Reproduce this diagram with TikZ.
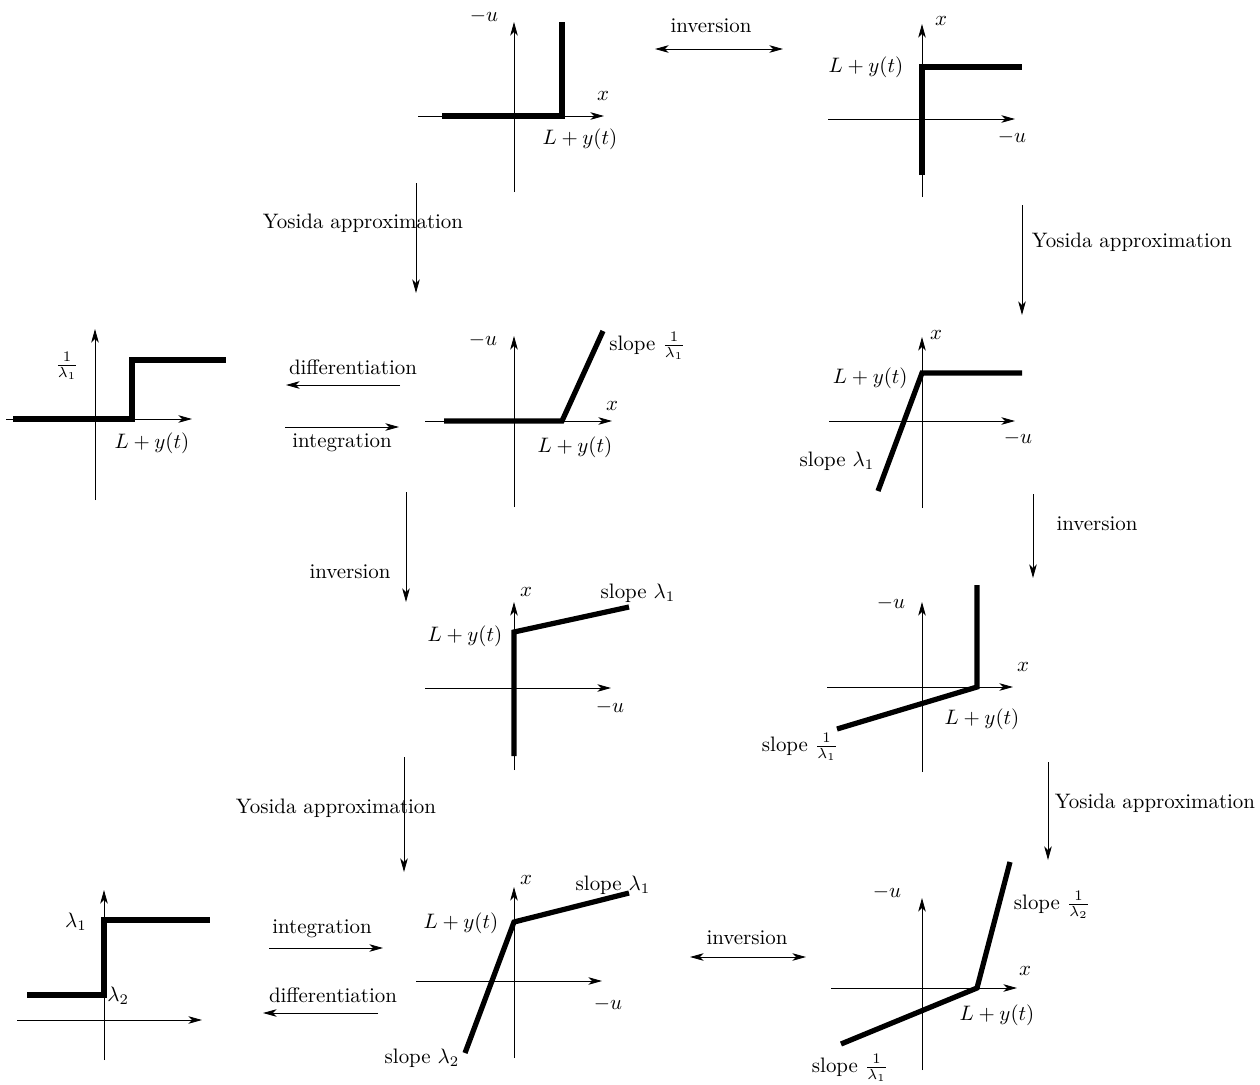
\documentclass[tikz,border=0pt]{standalone}
\usetikzlibrary{arrows.meta}
\begin{document}
\begin{tikzpicture}[x=0.478pt,y=-0.478pt,
  tip/.style={-{Stealth[length=6.5pt,width=3.6pt,inset=1.8pt]}},
  axis/.style={tip,line width=0.4pt},
  trans/.style={tip,line width=0.4pt},
  both/.style={{Stealth[length=6.5pt,width=3.6pt,inset=1.8pt]}-{Stealth[length=6.5pt,width=3.6pt,inset=1.8pt]},line width=0.4pt},
  graph/.style={line width=2.5pt,line join=miter,line cap=butt},
  lbl/.style={inner sep=0pt,font=\normalsize}]
\useasboundingbox (0,0) rectangle (1260,1085);

% ---------- Panel A (top middle)
\draw[axis] (418,116) -- (604,116);
\draw[axis] (514,192) -- (514,22);
\draw[graph] (442,116) -- (562,116) -- (562,22);
\node[lbl] (A-u) at (484,16) {$-u$};
\node[lbl] (A-x) at (603,96) {$x$};
\node[lbl] (A-L) at (580,139) {$L+y(t)$};

% ---------- inversion top
\coordinate (inv1a) at (655,49);
\coordinate (inv1b) at (783,49);
\draw[both] (inv1a) -- (inv1b);
\node[lbl] (inv1) at (711,26) {inversion};

% ---------- Panel B (top right)
\draw[axis] (828,119) -- (1015,119);
\draw[axis] (922,197) -- (922,24);
\draw[graph] (922,175) -- (922,67) -- (1022,67);
\node[lbl] (B-x) at (941,21) {$x$};
\node[lbl] (B-L) at (866,67) {$L+y(t)$};
\node[lbl] (B-u) at (1012,137) {$-u$};

% ---------- Yosida arrows row 1
\coordinate (y1a) at (416,183);
\coordinate (y1b) at (416,293);
\draw[trans] (y1a) -- (y1b);
\node[lbl] (y1) at (363,223) {Yosida approximation};
\coordinate (y2a) at (1022,205);
\coordinate (y2b) at (1022,315);
\draw[trans] (y2a) -- (y2b);
\node[lbl] (y2) at (1132,242) {Yosida approximation};

% ---------- Panel C (left middle)
\draw[axis] (6,419) -- (192,419);
\draw[axis] (95,500) -- (95,329);
\draw[graph] (13,419) -- (132,419) -- (132,360) -- (226,360);
\node[lbl] (C-l) at (67,366) {$\frac{1}{\lambda_1}$};
\node[lbl] (C-L) at (152,443) {$L+y(t)$};

\coordinate (d1a) at (400,385);
\coordinate (d1b) at (286,385);
\draw[trans] (d1a) -- (d1b);
\node[lbl] (d1) at (353,367) {differentiation};
\coordinate (i1a) at (285,427);
\coordinate (i1b) at (399,427);
\draw[trans] (i1a) -- (i1b);
\node[lbl] (i1) at (342,443) {integration};

% ---------- Panel D (center middle)
\draw[axis] (425,421) -- (612,421);
\draw[axis] (514,507) -- (514,336);
\draw[graph] (444,421) -- (562,421) -- (603,331);
\node[lbl] (D-u) at (483,340) {$-u$};
\node[lbl] (D-x) at (612,406) {$x$};
\node[lbl] (D-L) at (575,447) {$L+y(t)$};
\node[lbl,anchor=west] (D-s) at (609,346) {slope $\frac{1}{\lambda_1}$};

% ---------- Panel E (right middle)
\draw[axis] (829,421) -- (1015,421);
\draw[axis] (922,508) -- (922,337);
\draw[graph] (878,491) -- (922,373) -- (1022,373);
\node[lbl] (E-x) at (936,335) {$x$};
\node[lbl,anchor=east] (E-L) at (908,378) {$L+y(t)$};
\node[lbl] (E-u) at (1018,438) {$-u$};
\node[lbl] (E-s) at (837,461) {slope $\lambda_1$};

% ---------- inversion arrows row 2
\coordinate (v1a) at (406,492);
\coordinate (v1b) at (406,602);
\draw[trans] (v1a) -- (v1b);
\node[lbl] (v1) at (350,572) {inversion};
\coordinate (v2a) at (1033,494);
\coordinate (v2b) at (1033,578);
\draw[trans] (v2a) -- (v2b);
\node[lbl] (v2) at (1097,524) {inversion};

% ---------- Panel F (center row 3)
\draw[axis] (425,688) -- (611,688);
\draw[axis] (514,770) -- (514,602);
\draw[graph] (514,756) -- (514,632) -- (629,607);
\node[lbl] (F-x) at (526,592) {$x$};
\node[lbl] (F-L) at (465,636) {$L+y(t)$};
\node[lbl] (F-s) at (638,593) {slope $\lambda_1$};
\node[lbl] (F-u) at (610,707) {$-u$};

% ---------- Panel G (right row 3)
\draw[axis] (827,687) -- (1013,687);
\draw[axis] (922,772) -- (922,602);
\draw[graph] (977,585) -- (977,687) -- (837,729);
\node[lbl] (G-u) at (891,603) {$-u$};
\node[lbl] (G-x) at (1023,667) {$x$};
\node[lbl] (G-L) at (982,719) {$L+y(t)$};
\node[lbl] (G-s) at (800,747) {slope $\frac{1}{\lambda_1}$};

% ---------- Yosida arrows row 3
\coordinate (y3a) at (404,757);
\coordinate (y3b) at (404,872);
\draw[trans] (y3a) -- (y3b);
\node[lbl] (y3) at (336,808) {Yosida approximation};
\coordinate (y4a) at (1048,762);
\coordinate (y4b) at (1048,860);
\draw[trans] (y4a) -- (y4b);
\node[lbl] (y4) at (1155,803) {Yosida approximation};

% ---------- Panel H (left bottom)
\draw[axis] (17,1020) -- (202,1020);
\draw[axis] (104,1060) -- (104,890);
\draw[graph] (27,995) -- (104,995) -- (104,920) -- (210,920);
\node[lbl] (H-1) at (76,922) {$\lambda_1$};
\node[lbl,anchor=west] (H-2) at (107,996) {$\lambda_2$};

\coordinate (i2a) at (269,948);
\coordinate (i2b) at (383,948);
\draw[trans] (i2a) -- (i2b);
\node[lbl] (i2) at (322,929) {integration};
\coordinate (d2a) at (378,1013);
\coordinate (d2b) at (263,1013);
\draw[trans] (d2a) -- (d2b);
\node[lbl] (d2) at (333,995) {differentiation};

% ---------- Panel I (center bottom)
\draw[axis] (416,981) -- (602,981);
\draw[axis] (514,1058) -- (514,887);
\draw[graph] (465,1053) -- (514,922) -- (629,893);
\node[lbl] (I-x) at (526,880) {$x$};
\node[lbl] (I-L) at (461,923) {$L+y(t)$};
\node[lbl] (I-s1) at (613,885) {slope $\lambda_1$};
\node[lbl] (I-u) at (608,1004) {$-u$};
\node[lbl] (I-s2) at (422,1058) {slope $\lambda_2$};

% ---------- inversion bottom
\coordinate (inv2a) at (690,957);
\coordinate (inv2b) at (806,957);
\draw[both] (inv2a) -- (inv2b);
\node[lbl] (inv2) at (747,938) {inversion};

% ---------- Panel J (right bottom)
\draw[axis] (831,988) -- (1017,988);
\draw[axis] (922,1070) -- (922,898);
\draw[graph] (1010,862) -- (977,988) -- (841,1044);
\node[lbl] (J-u) at (887,892) {$-u$};
\node[lbl] (J-s2) at (1052,905) {slope $\frac{1}{\lambda_2}$};
\node[lbl] (J-x) at (1025,971) {$x$};
\node[lbl] (J-L) at (997,1015) {$L+y(t)$};
\node[lbl] (J-s1) at (850,1068) {slope $\frac{1}{\lambda_1}$};
\end{tikzpicture}
\end{document}
